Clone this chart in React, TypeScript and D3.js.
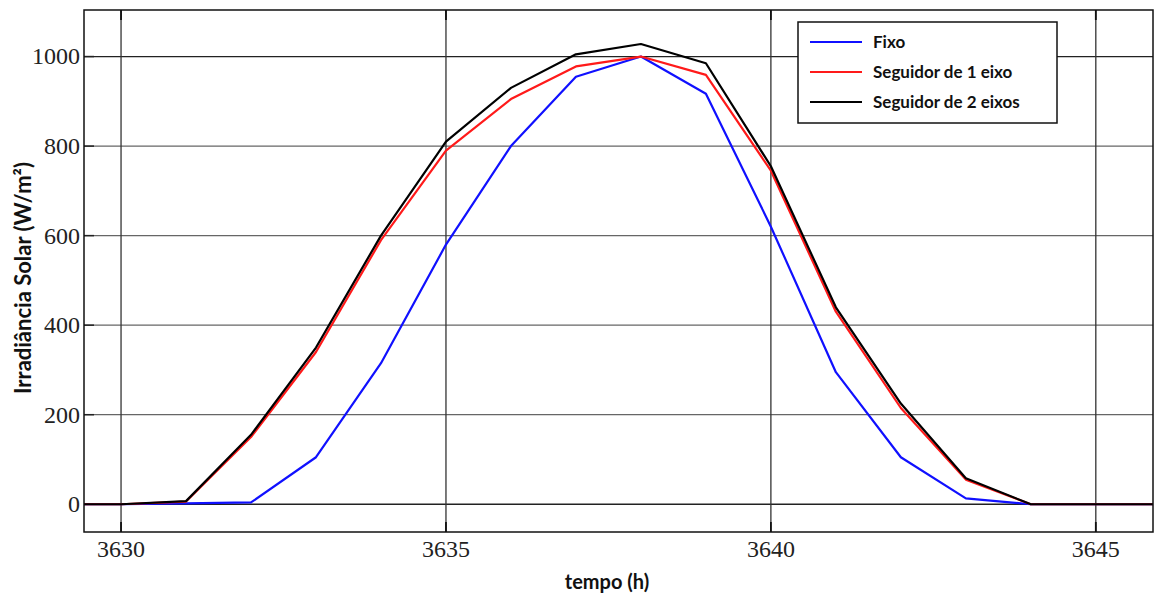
import React from "react";
import * as d3 from "d3";

const hours = [3629, 3630, 3631, 3632, 3633, 3634, 3635, 3636, 3637, 3638, 3639, 3640, 3641, 3642, 3643, 3644, 3645, 3646];
const fixo = [0, 0, 2, 4, 105, 315, 580, 800, 955, 1000, 917, 620, 295, 105, 13, 0, 0, 0];
const seguidor1 = [0, 0, 6, 150, 340, 590, 790, 905, 978, 1000, 959, 745, 430, 215, 55, 0, 0, 0];
const seguidor2 = [0, 0, 7, 155, 350, 600, 810, 930, 1005, 1028, 985, 755, 440, 225, 58, 0, 0, 0];
const xTicks = [3630, 3635, 3640, 3645];
const yTicks = [0, 200, 400, 600, 800, 1000];
const seriesNames = ["Fixo", "Seguidor de 1 eixo", "Seguidor de 2 eixos"];
const seriesColors = ["#1010ff", "#ff1a1a", "#000000"];

export default function App() {
  const W = 1156, H = 596;
  const left = 84, right = 1153, top = 10, bottom = 532;
  const x = d3.scaleLinear().domain([3629.43, 3645.88]).range([left, right]);
  const y = d3.scaleLinear().domain([-62, 1104]).range([bottom, top]);
  const line = d3.line<number>().x((_, i) => x(hours[i])).y((d) => y(d));
  const series = [fixo, seguidor1, seguidor2];
  const serif = "'Liberation Serif', 'DejaVu Serif', serif";
  const sans = "Lato, 'Open Sans', sans-serif";
  const lx = 798, ly = 22, lw = 259, lh = 101;
  return (
    <svg width={W} height={H} style={{ position: "absolute", left: 0, top: 0, background: "#fff" }}>
      <defs>
        <clipPath id="plot">
          <rect x={left} y={top} width={right - left} height={bottom - top} />
        </clipPath>
      </defs>
      {yTicks.map((t) => (
        <g key={"y" + t}>
          <line x1={left} x2={right} y1={y(t)} y2={y(t)} stroke={t === 0 || t === 1000 ? "#222" : "#666"} strokeWidth={1.3} />
          <line x1={left} x2={left + 10} y1={y(t)} y2={y(t)} stroke="#222" strokeWidth={1.5} />
          <text x={left - 4} y={y(t)} dy="0.33em" textAnchor="end" fontFamily={serif} fontSize={24} fill="#222">{t}</text>
        </g>
      ))}
      {xTicks.map((t) => (
        <g key={"x" + t}>
          <line x1={x(t)} x2={x(t)} y1={top} y2={bottom} stroke="#333" strokeWidth={1.3} />
          <line x1={x(t)} x2={x(t)} y1={top} y2={top + 10} stroke="#111" strokeWidth={1.8} />
          <line x1={x(t)} x2={x(t)} y1={bottom - 10} y2={bottom} stroke="#111" strokeWidth={1.8} />
          <text x={x(t)} y={557} textAnchor="middle" fontFamily={serif} fontSize={24} fill="#222">{t}</text>
        </g>
      ))}
      <g clipPath="url(#plot)">
        {series.map((s, i) => (
          <path key={i} d={line(s) || ""} fill="none" stroke={seriesColors[i]} strokeWidth={2.2} strokeLinejoin="round" />
        ))}
      </g>
      <rect x={left} y={top} width={right - left} height={bottom - top} fill="none" stroke="#111" strokeWidth={1.5} />
      <g>
        <rect x={lx} y={ly} width={lw} height={lh} fill="#fff" stroke="#111" strokeWidth={1.5} />
        {seriesNames.map((n, i) => (
          <g key={n}>
            <line x1={lx + 12} x2={lx + 64} y1={ly + 20 + i * 30} y2={ly + 20 + i * 30} stroke={seriesColors[i]} strokeWidth={2} />
            <text x={lx + 75} y={ly + 20 + i * 30} dy="0.35em" fontFamily={sans} fontWeight="bold" fontSize={17} fill="#111">{n}</text>
          </g>
        ))}
      </g>
      <text transform={`translate(31,278) rotate(-90)`} textAnchor="middle" fontFamily={sans} fontWeight="bold" fontSize={22} fill="#111">Irradiância Solar (W/m²)</text>
      <text x={607} y={589} textAnchor="middle" fontFamily={sans} fontWeight="bold" fontSize={20} fill="#111">tempo (h)</text>
    </svg>
  );
}
